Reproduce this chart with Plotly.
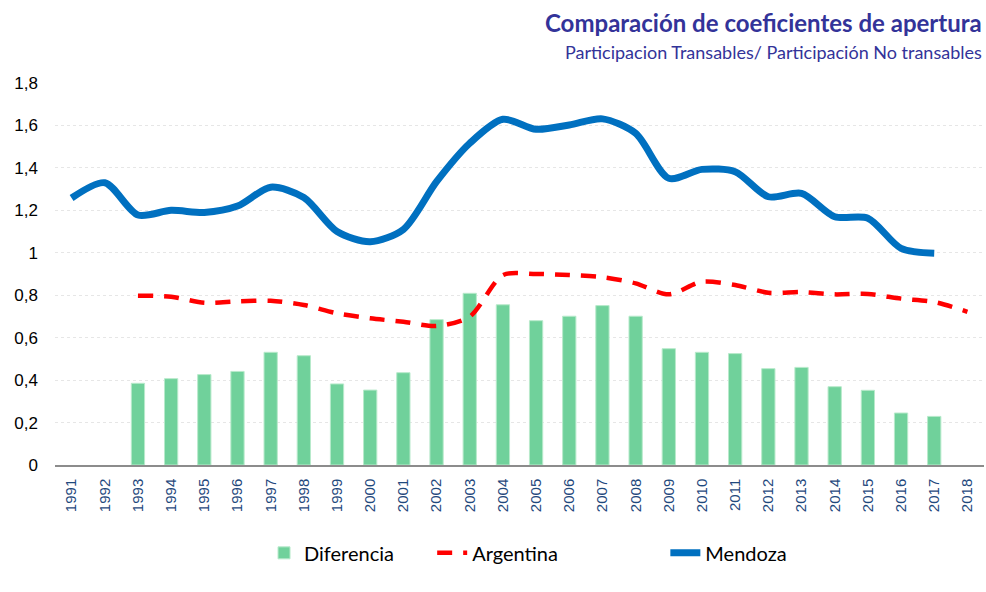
import plotly.graph_objects as go

years = [str(y) for y in range(1991, 2019)]

diferencia = [None, None, 0.385, 0.407, 0.426, 0.441, 0.531, 0.515, 0.382, 0.353,
              0.435, 0.685, 0.809, 0.755, 0.680, 0.701, 0.751, 0.701, 0.548, 0.531,
              0.525, 0.454, 0.460, 0.369, 0.352, 0.245, 0.229, None]

argentina = [None, None, 0.798, 0.793, 0.765, 0.771, 0.774, 0.754, 0.715, 0.691,
             0.675, 0.655, 0.699, 0.895, 0.900, 0.895, 0.885, 0.856, 0.804, 0.864,
             0.848, 0.812, 0.815, 0.804, 0.806, 0.784, 0.768, 0.722]

mendoza = [1.258, 1.330, 1.178, 1.200, 1.190, 1.220, 1.309, 1.260, 1.100, 1.052,
           1.110, 1.335, 1.516, 1.629, 1.582, 1.602, 1.631, 1.563, 1.351, 1.393,
           1.382, 1.264, 1.280, 1.170, 1.163, 1.021, 0.998, None]

y_ticks = [0, 0.2, 0.4, 0.6, 0.8, 1, 1.2, 1.4, 1.6, 1.8]
y_tick_text = ["0", "0,2", "0,4", "0,6", "0,8", "1", "1,2", "1,4", "1,6", "1,8"]

fig = go.Figure()
fig.add_trace(go.Bar(
    x=years, y=diferencia, name="Diferencia", legend="legend",
    marker=dict(color="#70D19B", line=dict(color="#B8EACB", width=1)),
))
fig.add_trace(go.Scatter(
    x=years, y=argentina, name="Argentina", mode="lines", legend="legend2",
    line=dict(color="#FF0000", width=4.5, dash="15px,11px", shape="spline", smoothing=0.8),
    connectgaps=False,
))
fig.add_trace(go.Scatter(
    x=years, y=mendoza, name="Mendoza", mode="lines", legend="legend3",
    line=dict(color="#0070C0", width=7, shape="spline", smoothing=0.8),
))

leg_common = dict(orientation="h", xanchor="left", y=-0.23, yanchor="middle",
                  font=dict(family="Lato, sans-serif", size=20, color="#000000"),
                  bgcolor="rgba(0,0,0,0)")

fig.update_layout(
    width=986, height=592,
    margin=dict(l=55, r=2, t=83, b=127),
    paper_bgcolor="white", plot_bgcolor="white",
    font=dict(family="Lato, Liberation Sans, sans-serif", color="#000000"),
    bargap=0.6,
    showlegend=True,
    legend=dict(x=0.225, **leg_common),
    legend2=dict(x=0.406, **leg_common),
    legend3=dict(x=0.657, **leg_common),
    xaxis=dict(type="category", tickangle=-90, showgrid=False,
               tickfont=dict(family="Liberation Sans, Arial, sans-serif", size=15, color="#1F497D"),
               showline=True, linecolor="#8C8C8C", linewidth=1.5, ticks="",
               ticklabelstandoff=6),
    yaxis=dict(range=[0, 1.8], tickvals=y_ticks, ticktext=y_tick_text,
               tickfont=dict(family="Liberation Sans, Arial, sans-serif", size=17, color="#000000"),
               showgrid=True, gridcolor="#E6E6E6", griddash="dot", gridwidth=1,
               zeroline=False, ticklabelstandoff=16, showline=False),
    annotations=[
        dict(text="<b>Comparación de coeficientes de apertura</b>", xref="paper", yref="paper",
             x=1.0, y=1.0, xanchor="right", yanchor="middle", yshift=61, showarrow=False,
             font=dict(family="Lato, sans-serif", size=24, color="#333399")),
        dict(text="Participacion Transables/ Participación No transables", xref="paper", yref="paper",
             x=1.0, y=1.0, xanchor="right", yanchor="middle", yshift=31, showarrow=False,
             font=dict(family="Lato, sans-serif", size=18, color="#333399")),
    ],
)

fig.write_html("out.html", config={"displayModeBar": False},
               post_script="document.body.style.margin='0';document.body.style.overflow='hidden';")
